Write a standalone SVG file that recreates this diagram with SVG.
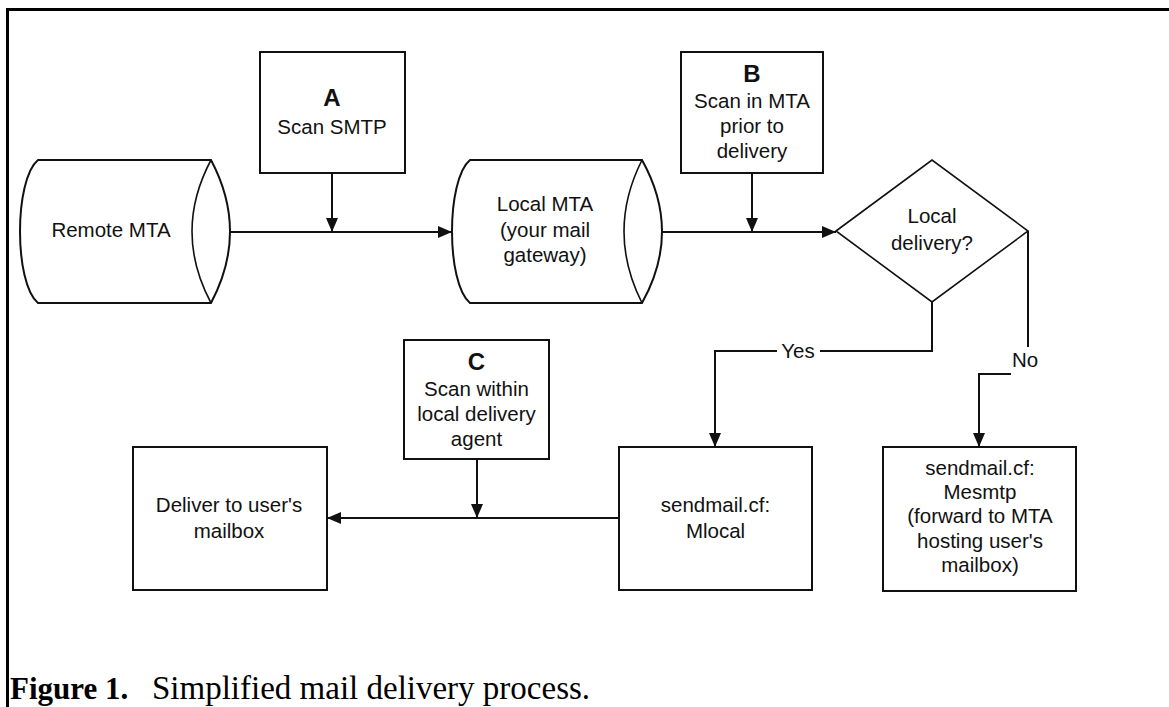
<svg xmlns="http://www.w3.org/2000/svg" width="1169" height="707" viewBox="0 0 1169 707">
<defs>
<marker id="arr" markerUnits="userSpaceOnUse" markerWidth="15" markerHeight="13" refX="14" refY="6.5" orient="auto">
<path d="M0,0.5 L14,6.5 L0,12.5 z" fill="#111"/>
</marker>
<style>
.shape{fill:#fff;stroke:#111;stroke-width:2}
.thin{fill:none;stroke:#111;stroke-width:1.6}
.conn{fill:none;stroke:#111;stroke-width:2}
.t{font-family:"Liberation Sans",Arial,sans-serif;font-size:20.5px;fill:#111;text-anchor:middle}
.big{font-family:"Liberation Sans",Arial,sans-serif;font-size:24px;font-weight:bold;fill:#111;text-anchor:middle}
.cap{font-family:"Liberation Serif","Times New Roman",serif;font-size:33px;fill:#000}
</style>
</defs>
<rect width="1169" height="707" fill="#fff"/>
<path d="M7.5,707 V9.5 H1169" fill="none" stroke="#000" stroke-width="3"/>

<g id="remote-mta">
<path class="shape" d="M211,160 L38,160 C14,180 14,283 38,303 L211,303 Q249,231.5 211,160 z"/>
<path class="thin" d="M211,160 Q173,231.5 211,303"/>
<text class="t" x="111" y="237">Remote MTA</text>
</g>

<g id="scan-a">
<rect class="shape" x="260" y="52" width="145" height="121"/>
<text class="big" x="332" y="106">A</text>
<text class="t" x="332" y="134">Scan SMTP</text>
</g>

<g id="local-mta">
<path class="shape" d="M642,160 L470,160 C446,180 446,283 470,303 L642,303 Q682,231.5 642,160 z"/>
<path class="thin" d="M642,160 Q606,231.5 642,303"/>
<text class="t" x="545" y="211">Local MTA</text>
<text class="t" x="545" y="237">(your mail</text>
<text class="t" x="545" y="262">gateway)</text>
</g>

<g id="scan-b">
<rect class="shape" x="681" y="52" width="142" height="121"/>
<text class="big" x="752" y="82">B</text>
<text class="t" x="752" y="108">Scan in MTA</text>
<text class="t" x="752" y="133">prior to</text>
<text class="t" x="752" y="158">delivery</text>
</g>

<g id="decision">
<polygon points="836,231 932,160 1028,231 932,302" fill="#fff" stroke="#111" stroke-width="1.6"/>
<text class="t" x="932" y="223">Local</text>
<text class="t" x="932" y="250">delivery?</text>
</g>

<g id="scan-c">
<rect class="shape" x="404" y="340" width="145" height="119"/>
<text class="big" x="476.5" y="370">C</text>
<text class="t" x="476.5" y="396">Scan within</text>
<text class="t" x="476.5" y="421">local delivery</text>
<text class="t" x="476.5" y="446">agent</text>
</g>

<g id="deliver">
<rect class="shape" x="133" y="447" width="194" height="143"/>
<text class="t" x="229" y="512">Deliver to user's</text>
<text class="t" x="229" y="538">mailbox</text>
</g>

<g id="mlocal">
<rect class="shape" x="619" y="447" width="193" height="143"/>
<text class="t" x="715.5" y="512">sendmail.cf:</text>
<text class="t" x="715.5" y="538">Mlocal</text>
</g>

<g id="mesmtp">
<rect class="shape" x="883" y="447" width="193" height="144"/>
<text class="t" x="980" y="475">sendmail.cf:</text>
<text class="t" x="980" y="499">Mesmtp</text>
<text class="t" x="980" y="523">(forward to MTA</text>
<text class="t" x="980" y="548">hosting user's</text>
<text class="t" x="980" y="572">mailbox)</text>
</g>

<g id="connectors">
<path class="conn" d="M230,232 H452" marker-end="url(#arr)"/>
<path class="conn" d="M332,173 V232" marker-end="url(#arr)"/>
<path class="conn" d="M662,232 H836" marker-end="url(#arr)"/>
<path class="conn" d="M752,173 V232" marker-end="url(#arr)"/>
<path class="conn" d="M932,302 V351 H820"/>
<path class="conn" d="M777,351 H715 V447" marker-end="url(#arr)"/>
<text class="t" x="798" y="358">Yes</text>
<path class="conn" d="M1028,231 V347"/>
<path class="conn" d="M1011,374 H979 V447" marker-end="url(#arr)"/>
<text class="t" x="1025" y="367">No</text>
<path class="conn" d="M619,518 H327" marker-end="url(#arr)"/>
<path class="conn" d="M477,459 V518" marker-end="url(#arr)"/>
</g>

<text class="cap" x="10" y="699"><tspan font-weight="bold" font-size="31">Figure 1.</tspan><tspan x="152">Simplified mail delivery process.</tspan></text>
</svg>
